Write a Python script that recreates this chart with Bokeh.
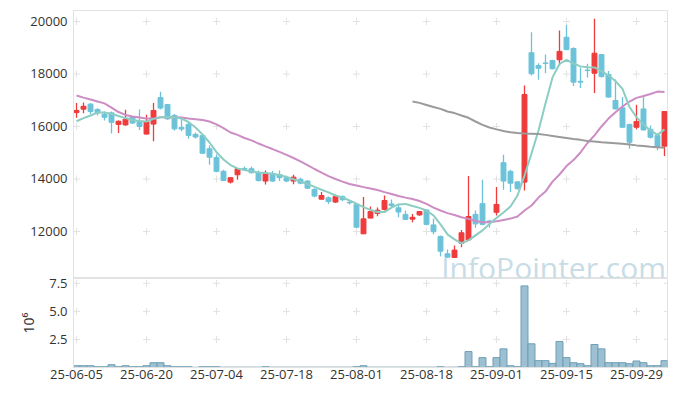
from bokeh.plotting import figure
from bokeh.layouts import column
from bokeh.models import Range1d, FixedTicker, Label, NumeralTickFormatter
from bokeh.embed import file_html
from bokeh.resources import INLINE

# ---------------- data ----------------
tick_idx = [0, 10, 20, 30, 40, 50, 60, 70, 80]
tick_labels = ["25-06-05", "25-06-20", "25-07-04", "25-07-18", "25-08-01",
               "25-08-18", "25-09-01", "25-09-15", "25-09-29"]
price_ticks = [12000, 14000, 16000, 18000, 20000]
vol_ticks = [2.5, 5.0, 7.5]

opens = [16530,16660,16850,16650,16470,16520,16080,16060,16380,16200,
         15710,16090,17100,16840,16420,15970,16080,15700,15660,15150,
         14820,14290,13880,14160,14400,14390,14240,13920,14200,14170,
         14050,13920,13990,13920,13600,13230,13280,13120,13330,13110,
         13030,11910,12510,12690,12840,13050,12900,12650,12470,12630,
         12820,12250,11810,11150,11010,11550,11680,12650,13060,12400,
         12730,14620,14290,13890,13880,18810,18320,18420,18510,18540,
         19400,18970,17720,18150,18030,18740,17980,16990,16710,16080,
         15970,16670,15890,15660,15250]
highs = [16890,16910,16890,16690,16570,16570,16230,16640,16400,16650,
         16450,16890,17320,16850,16480,16360,16180,15770,15670,15280,
         14930,14350,14050,14410,14480,14480,14320,14320,14300,14320,
         14120,14160,14050,13950,13650,13500,13330,13400,13380,13170,
         13080,13310,12950,12910,13370,13220,13060,12800,12670,12780,
         12840,12480,11850,11310,11470,12060,14110,12800,13970,12450,
         13690,14920,14350,13900,17560,19590,18410,18740,18540,19660,
         19870,19020,18250,18390,20100,18750,18110,17790,17120,16100,
         16830,17120,16040,15660,16570]
lows = [16330,16500,16480,16420,16230,15730,15750,16030,16100,15870,
        15690,15440,16650,16260,15850,15820,15530,15540,14960,14540,
        14260,13920,13830,13970,14300,14210,13900,13790,13880,13920,
        13880,13800,13800,13620,13300,13220,13050,13080,13150,13030,
        12150,11910,12500,12580,12800,12930,12540,12440,12350,12600,
        12240,11890,11050,11000,11000,11400,11660,12140,12240,12140,
        12610,13590,13500,13600,13560,17940,17780,18030,18180,18320,
        18900,17540,17470,17870,17280,17870,17090,16650,15950,15150,
        15890,15850,15540,15090,14880]
closes = [16610,16770,16570,16510,16350,16160,16200,16280,16130,16000,
          16180,16610,16700,16290,15910,15900,15660,15600,14980,14830,
          14290,13940,14050,14390,14370,14240,13940,14200,13920,14050,
          13920,14070,13840,13650,13350,13370,13140,13330,13210,13090,
          12160,12480,12760,12810,13180,12990,12740,12460,12540,12760,
          12270,11990,11250,11020,11290,11950,12570,12290,12270,12350,
          13030,13920,13840,13630,17220,18010,18220,18400,18200,18860,
          18930,17690,17690,18130,18790,17900,17120,16670,15970,15400,
          16190,15870,15590,15250,16570]

ma_short = [16200,16320,16420,16530,16530,16480,16400,16320,16250,16210,
            16190,16290,16350,16360,16350,16300,16170,15960,15700,15390,
            15020,14740,14530,14400,14340,14290,14250,14230,14200,14150,
            14080,13990,13900,13810,13700,13590,13490,13370,13300,13180,
            13060,12930,12820,12740,12740,12910,13030,13050,12970,12900,
            12800,12610,12270,11890,11700,11550,11660,11850,12040,12290,
            12510,12720,12950,13370,14130,14970,15850,16880,17870,18380,
            18540,18400,18290,18260,18250,18110,17940,17730,17430,16740,
            16350,16080,15850,15680,15890]
ma_mid = [17180,17100,17030,16950,16880,16720,16550,16440,16380,16340,
          16300,16300,16350,16350,16350,16340,16300,16280,16250,16190,
          16080,15940,15770,15680,15560,15470,15350,15240,15140,15030,
          14920,14800,14670,14530,14380,14240,14110,14000,13900,13810,
          13750,13690,13640,13580,13500,13430,13350,13290,13240,13160,
          13050,12910,12800,12700,12630,12540,12480,12400,12350,12350,
          12390,12440,12490,12570,12800,12990,13290,13520,13900,14170,
          14490,14720,15010,15370,15660,16000,16300,16540,16760,16950,
          17090,17160,17240,17330,17310]
ma_long_start = 48
ma_long = [16950,16900,16820,16740,16670,16570,16510,16420,16330,16190,
           16060,15960,15890,15830,15780,15750,15730,15720,15710,15680,
           15640,15600,15560,15520,15490,15450,15430,15400,15380,15360,
           15340,15310,15280,15260,15230,15210,15190]

volume = [0.16,0.16,0.16,0.07,0.07,0.25,0.07,0.16,0.07,0.07,
          0.16,0.43,0.43,0.16,0.07,0.07,0.07,0.02,0.07,0.07,
          0.07,0.03,0.03,0.03,0.03,0.03,0.03,0.07,0.03,0.03,
          0.03,0.03,0.03,0.03,0.03,0.03,0.03,0.03,0.03,0.03,
          0.07,0.16,0.03,0.03,0.03,0.03,0.03,0.03,0.03,0.03,
          0.03,0.03,0.07,0.03,0.03,0.07,1.42,0.07,0.88,0.07,
          0.88,1.66,0.16,0.07,7.27,2.11,0.61,0.61,0.37,2.32,
          0.88,0.43,0.34,0.16,2.05,1.66,0.43,0.43,0.43,0.34,
          0.58,0.43,0.16,0.16,0.61]

# ---------------- style ----------------
FONT = "Open Sans"
UP = "#ef3b3b"
DOWN = "#6cc3d9"
AXIS_C = "#e2e2e2"
GRID_C = "#e2e2e2"
TEXT_C = "#333333"

idx = list(range(len(closes)))
colors = [UP if c > o else DOWN for o, c in zip(opens, closes)]
body_top = [max(o, c) for o, c in zip(opens, closes)]
body_bot = [min(o, c) for o, c in zip(opens, closes)]

x_range = Range1d(-0.43, 84.43)

# ---------------- price chart ----------------
p = figure(frame_width=594, frame_height=268, x_range=x_range,
           y_range=Range1d(10208, 20419), output_backend="svg",
           toolbar_location=None, x_axis_location=None,
           min_border_left=73, min_border_right=2, min_border_top=10,
           min_border_bottom=0)
p.outline_line_color = AXIS_C
p.xgrid.visible = False
p.ygrid.visible = False
p.yaxis.ticker = FixedTicker(ticks=price_ticks)
p.yaxis.axis_line_color = AXIS_C
p.yaxis.major_tick_line_color = None
p.yaxis.minor_tick_line_color = None
p.yaxis.major_tick_out = 0
p.yaxis.major_tick_in = 0
p.yaxis.major_label_text_font = FONT
p.yaxis.major_label_text_font_size = "13px"
p.yaxis.major_label_text_color = TEXT_C
p.yaxis.major_label_standoff = 6

wm = Label(x=52.1, y=10627, text="InfoPointer.com", text_font=FONT,
           text_font_size="30px", text_color="#c8dce6", text_align="left",
           text_baseline="alphabetic", level="underlay")
p.add_layout(wm)

gx = [x for x in tick_idx for _ in price_ticks] + [x_range.end] * len(price_ticks)
gy = [y for _ in tick_idx for y in price_ticks] + price_ticks
p.scatter(gx, gy, marker="cross", size=7, line_color=GRID_C, line_width=1)

p.segment(x0=idx, y0=lows, x1=idx, y1=highs, line_color=colors, line_width=1.3)
p.vbar(x=idx, width=0.7, top=body_top, bottom=body_bot, fill_color=colors,
       line_color=colors, line_width=1)

p.line(idx, ma_mid, line_color="#cc8cc4", line_width=2)
p.line(idx, ma_short, line_color="#8ccdc3", line_width=2)
p.line(idx[ma_long_start:], ma_long, line_color="#9a9a9a", line_width=2)

# ---------------- volume chart ----------------
v = figure(frame_width=594, frame_height=89, x_range=x_range,
           y_range=Range1d(0, 7.93), output_backend="svg",
           toolbar_location=None, min_border_left=73, min_border_right=2,
           min_border_top=0, min_border_bottom=0)
v.outline_line_color = AXIS_C
v.xgrid.visible = False
v.ygrid.visible = False

vgx = [x for x in tick_idx for _ in vol_ticks] + [x_range.end] * len(vol_ticks)
vgy = [y for _ in tick_idx for y in vol_ticks] + vol_ticks
v.scatter(vgx, vgy, marker="cross", size=7, line_color=GRID_C, line_width=1)

v.vbar(x=idx, width=1.0, top=volume, bottom=0, fill_color="#9cc0d1",
       line_color="#6e9fb6", line_width=1)

v.yaxis.ticker = FixedTicker(ticks=vol_ticks)
v.yaxis.formatter = NumeralTickFormatter(format="0.0")
v.yaxis.axis_line_color = AXIS_C
v.yaxis.major_tick_line_color = None
v.yaxis.minor_tick_line_color = None
v.yaxis.major_tick_out = 0
v.yaxis.major_tick_in = 0
v.yaxis.major_label_text_font = FONT
v.yaxis.major_label_text_font_size = "13px"
v.yaxis.major_label_text_color = TEXT_C
v.yaxis.major_label_standoff = 6
v.yaxis.axis_label = "10⁶"
v.yaxis.axis_label_text_font = "Noto Sans"
v.yaxis.axis_label_text_font_style = "normal"
v.yaxis.axis_label_text_font_size = "14px"
v.yaxis.axis_label_text_color = TEXT_C
v.yaxis.axis_label_standoff = 8

v.xaxis.ticker = FixedTicker(ticks=tick_idx)
v.xaxis.major_label_overrides = {t: l for t, l in zip(tick_idx, tick_labels)}
v.xaxis.axis_line_color = AXIS_C
v.xaxis.major_tick_line_color = None
v.xaxis.minor_tick_line_color = None
v.xaxis.major_tick_out = 0
v.xaxis.major_tick_in = 0
v.xaxis.major_label_text_font = FONT
v.xaxis.major_label_text_font_size = "13px"
v.xaxis.major_label_text_color = TEXT_C
v.xaxis.major_label_standoff = 2

layout = column(p, v, spacing=0)
open("out.html", "w").write(file_html(layout, INLINE))
